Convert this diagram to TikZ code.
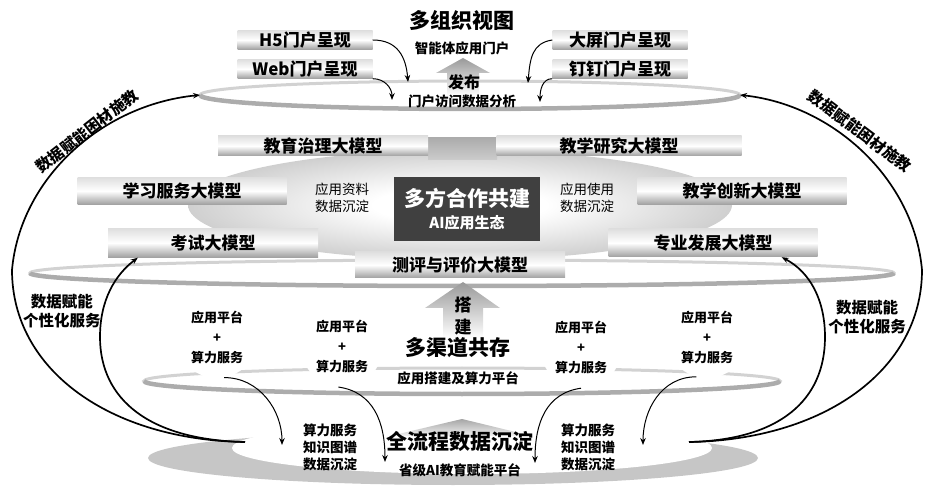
\documentclass[tikz,border=0pt]{standalone}
\usepackage{fontspec}
\setmainfont{Noto Sans CJK SC}
\usetikzlibrary{arrows.meta}

\pgfdeclareradialshading{blobshade}{\pgfpoint{0bp}{0bp}}{color(0bp)=(white); color(8bp)=(white); color(42bp)=(gray!75); color(50bp)=(gray!80)}
\pgfdeclareradialshading{discshade}{\pgfpoint{0bp}{8bp}}{color(0bp)=(white); color(36bp)=(white); color(50bp)=(gray!50)}

\tikzset{
  bar/.style={top color=gray!25, bottom color=gray!75, middle color=white,
    inner sep=0pt, font=\bfseries\fontsize{17}{17}\selectfont},
  ringback/.style={draw=gray!35, line width=3pt},
  ringfront/.style={draw=gray!65, line width=4.5pt},
  platform/.style={circle, shade, shading=discshade, minimum size=82pt,
    inner sep=0pt, align=center, font=\bfseries\fontsize{13}{20}\selectfont},
  note/.style={align=center, font=\fontsize{13.5}{16.5}\selectfont},
  label/.style={align=center, font=\bfseries\fontsize{13.5}{17}\selectfont},
  sidelabel/.style={align=center, font=\bfseries\fontsize{15.5}{19}\selectfont},
  headline/.style={font=\bfseries\fontsize{21}{21}\selectfont},
  bigarrow/.style={->, line width=1.7pt},
  smallarrow/.style={->, line width=1pt}
}

\begin{document}
\begin{tikzpicture}[x=1pt,y=-1pt,>={Stealth[length=7pt,width=5.5pt]}]

\useasboundingbox (0,0) rectangle (930,489);

% Rings
\foreach \cx/\cy/\rx/\ry in {470/95/270/14, 462/273/432/13, 462/381/318/13}{
  \draw[ringback] (\cx,\cy) ellipse [x radius=\rx, y radius=\ry];
  \draw[ringfront] ({\cx+\rx},\cy) arc[start angle=0, end angle=180, x radius=\rx, y radius=\ry];
}

% Bottom platform
\fill[gray!45] (453,458) ellipse [x radius=305, y radius=27];
\fill[white] (472,448) ellipse [x radius=240, y radius=26];

% Middle blob
\shade[shading=blobshade] (460,205) ellipse [x radius=272, y radius=55];
\shade[top color=gray!65, bottom color=gray!40] (428,138) rectangle (497,160);

% Block arrows
\shade[top color=gray!80, bottom color=white]
(463,58) -- (490,73) -- (479,73) -- (479,96) -- (447,96) -- (447,73) -- (436,73) -- cycle;
\shade[top color=gray!80, bottom color=white]
(463,282) -- (500,308) -- (483,308) -- (483,338) -- (443,338) -- (443,308) -- (425,308) -- cycle;
\shade[top color=gray!70, bottom color=gray!10]
(462,419) -- (532,436) -- (390,436) -- cycle;

% Top layer
\node[headline] (title) at (462,20) {多组织视图};
\node[label] (portal) at (462,48) {智能体应用门户};
\node[font=\bfseries\fontsize{16}{16}\selectfont] (fabu) at (464,82) {发布};
\node[label] (fenxi) at (462,101) {门户访问数据分析};

\node[bar, minimum width=135pt, minimum height=19pt] (hfive) at (305,40) {H5门户呈现};
\node[bar, minimum width=135pt, minimum height=19pt] (web) at (305,69) {Web门户呈现};
\node[bar, minimum width=135pt, minimum height=19pt] (daping) at (620,40) {大屏门户呈现};
\node[bar, minimum width=135pt, minimum height=19pt] (dingding) at (620,69) {钉钉门户呈现};

% Middle layer
\node[bar, minimum width=210pt, minimum height=20pt] (zhili) at (323,146) {教育治理大模型};
\node[bar, minimum width=245pt, minimum height=20pt] (yanjiu) at (619,146) {教学研究大模型};
\node[bar, minimum width=209pt, minimum height=27pt] (xuexi) at (182,191) {学习服务大模型};
\node[bar, minimum width=209pt, minimum height=27pt] (chuangxin) at (742,191) {教学创新大模型};
\node[bar, minimum width=210pt, minimum height=29pt] (kaoshi) at (213,243) {考试大模型};
\node[bar, minimum width=209pt, minimum height=28pt] (zhuanye) at (713,243) {专业发展大模型};
\node[bar, minimum width=210pt, minimum height=26pt] (ceping) at (460,265) {测评与评价大模型};

\node[fill=black!75, minimum width=146pt, minimum height=64pt] (gongjian) at (467,209) {};
\node[text=white, headline] (gongjianA) at (467,198) {多方合作共建};
\node[text=white, font=\bfseries\fontsize{15}{15}\selectfont] (gongjianB) at (467,223) {AI应用生态};

\node[note] (ziliao) at (342,198) {应用资料\\数据沉淀};
\node[note] (shiyong) at (587,198) {应用使用\\数据沉淀};

% Platform layer
\node[platform] (pa) at (217,337) {应用平台\\+\\算力服务};
\node[platform] (pb) at (342,346) {应用平台\\+\\算力服务};
\node[platform] (pc) at (581,347) {应用平台\\+\\算力服务};
\node[platform] (pd) at (707,337) {应用平台\\+\\算力服务};

\node[font=\bfseries\fontsize{17}{22}\selectfont, align=center] (dajian) at (463,316) {搭\\建};
\node[headline] (qudao) at (458,348) {多渠道共存};
\node[label] (suanli) at (458,378) {应用搭建及算力平台};

% Bottom layer
\node[headline] (quanliucheng) at (460,441) {全流程数据沉淀};
\node[label] (shengji) at (460,470) {省级AI教育赋能平台};
\node[label] (zhishiL) at (330,447) {算力服务\\知识图谱\\数据沉淀};
\node[label] (zhishiR) at (588,447) {算力服务\\知识图谱\\数据沉淀};

% Side labels
\node[sidelabel] (fuwuL) at (62,311) {数据赋能\\个性化服务};
\node[sidelabel] (fuwuR) at (867,317) {数据赋能\\个性化服务};
\node[sidelabel, rotate=38] (yincaiL) at (87,131) {数据赋能困材施教};
\node[sidelabel, rotate=-37] (yincaiR) at (860,131) {数据赋能困材施教};

% Arrow ends
\coordinate (ringAw) at (200,95);
\coordinate (ringAe) at (740,95);
\coordinate (baseL) at (245,442);
\coordinate (baseR) at (689,442);
\coordinate (topA) at (408,82);
\coordinate (topB) at (392,100);
\coordinate (topC) at (528,83);
\coordinate (topD) at (540,102);
\coordinate (sinkA) at (282,445);
\coordinate (sinkB) at (385,462);
\coordinate (sinkC) at (535,463);
\coordinate (sinkD) at (643,445);

% Small arrows
\draw[smallarrow] (hfive.east) .. controls +(25,0) and +(-2,-25) .. (topA);
\draw[smallarrow] (web.south east) .. controls +(12,0) and +(0,-12) .. (topB);
\draw[smallarrow] (daping.west) .. controls +(-20,3) and +(2,-25) .. (topC);
\draw[smallarrow] (dingding.south west) .. controls +(-10,0) and +(0,-12) .. (topD);

\draw[smallarrow] (pa.-80) .. controls +(35,0) and +(0,-35) .. (sinkA);
\draw[smallarrow] (pb.-95) .. controls +(35,5) and +(0,-40) .. (sinkB);
\draw[smallarrow] (pc.-90) .. controls +(-35,5) and +(0,-40) .. (sinkC);
\draw[smallarrow] (pd.-105) .. controls +(-35,0) and +(0,-35) .. (sinkD);

% Big arrows
\draw[bigarrow] (baseL) .. controls (110,440) and (12,370) .. (12,270)
  .. controls (20,180) and (100,105) .. (ringAw);
\draw[bigarrow] (baseL) .. controls (150,440) and (100,400) .. (100,337)
  .. controls (100,300) and (115,275) .. ([xshift=30pt]kaoshi.south west);
\draw[bigarrow] (baseR) .. controls (824,440) and (922,370) .. (922,270)
  .. controls (914,180) and (834,105) .. (ringAe);
\draw[bigarrow] (baseR) .. controls (780,440) and (825,400) .. (825,337)
  .. controls (825,300) and (810,272) .. ([xshift=-36pt]zhuanye.south east);

\end{tikzpicture}
\end{document}
